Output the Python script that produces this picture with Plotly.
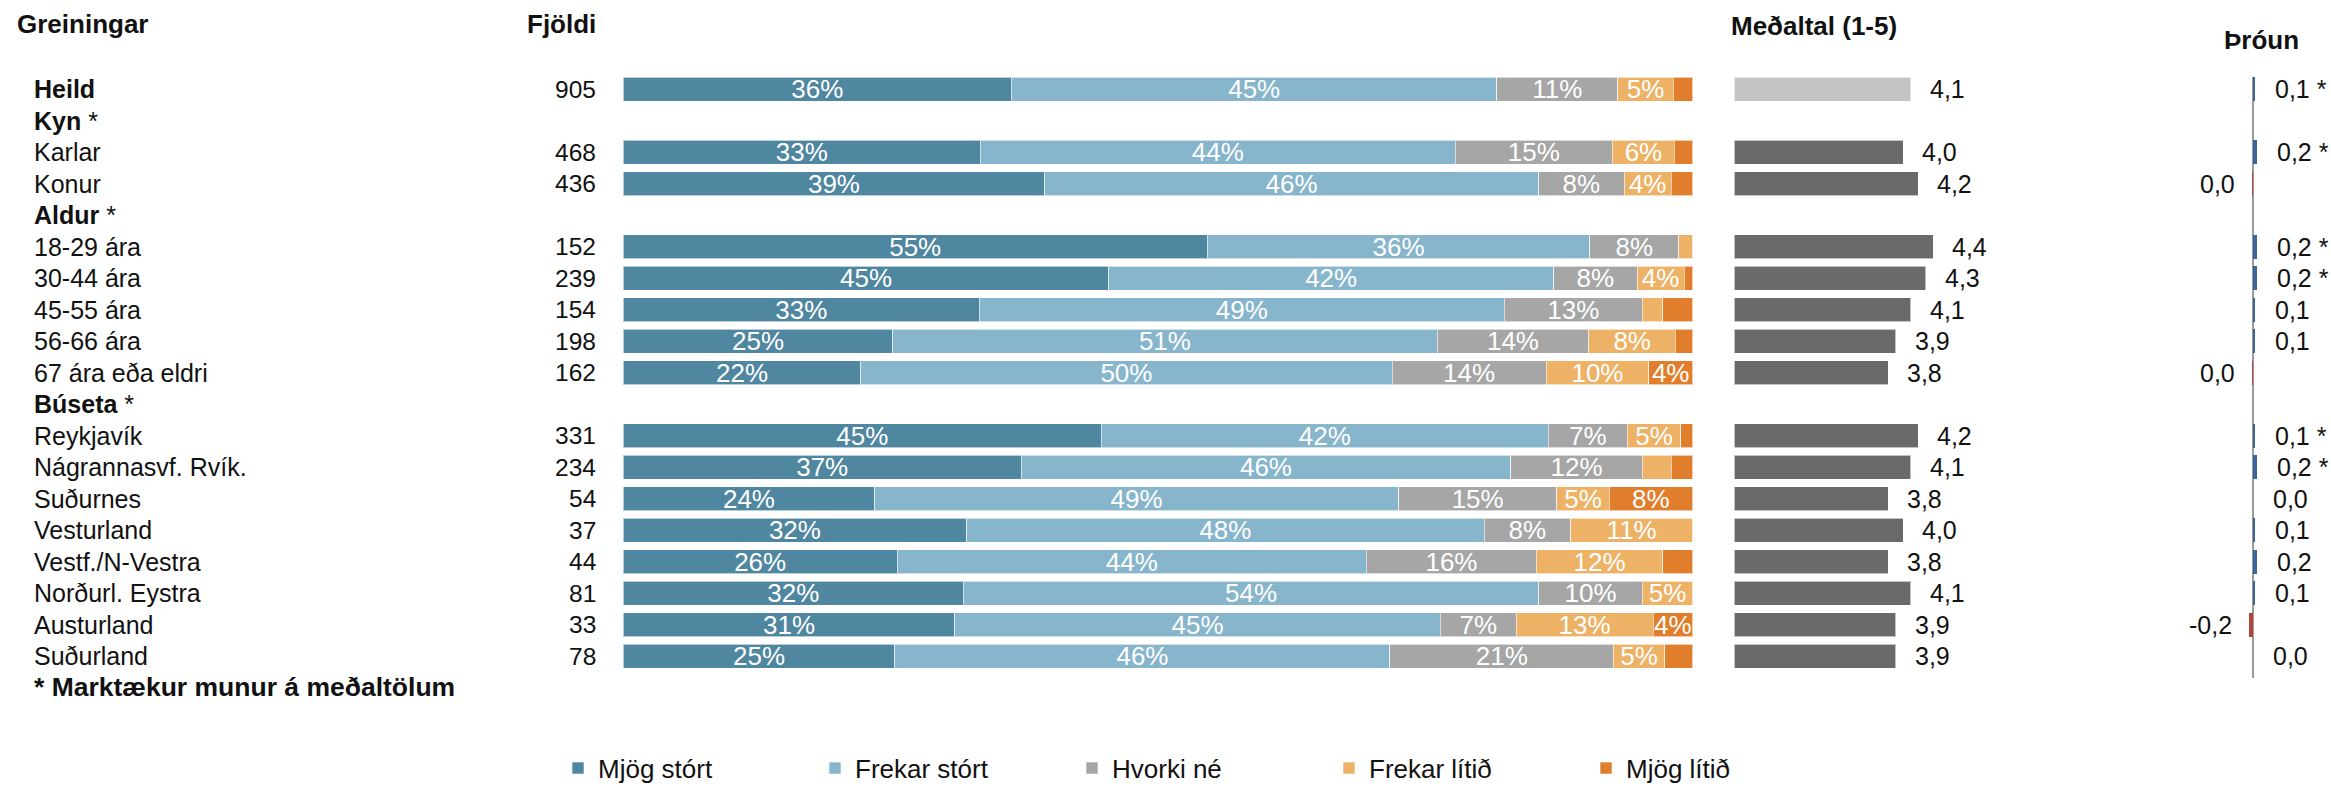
import plotly.graph_objects as go

W, H = 2331, 792
FONT = "Liberation Sans, Arial, sans-serif"

# ---------------- data ----------------
rows = ["Heild", "Kyn *", "Karlar", "Konur", "Aldur *", "18-29 ára", "30-44 ára",
        "45-55 ára", "56-66 ára", "67 ára eða eldri", "Búseta *", "Reykjavík",
        "Nágrannasvf. Rvík.", "Suðurnes", "Vesturland", "Vestf./N-Vestra",
        "Norðurl. Eystra", "Austurland", "Suðurland"]
bold_rows = ["Heild", "Kyn *", "Aldur *", "Búseta *"]

fjoldi = [905, None, 468, 436, None, 152, 239, 154, 198, 162, None,
          331, 234, 54, 37, 44, 81, 33, 78]

series_names = ["Mjög stórt", "Frekar stórt", "Hvorki né", "Frekar lítið", "Mjög lítið"]
mjog_stort = [36.3, None, 33.4, 39.4, None, 54.6, 45.4, 33.3, 25.2, 22.2, None,
              44.7, 37.2, 23.5, 32.1, 25.6, 31.8, 31.0, 25.4]
frekar_stort = [45.4, None, 44.4, 46.2, None, 35.8, 41.6, 49.1, 50.9, 49.7, None,
                41.8, 45.8, 49.0, 48.4, 43.9, 53.8, 45.4, 46.3]
hvorki_ne = [11.3, None, 14.7, 8.0, None, 8.3, 7.8, 12.9, 14.2, 14.4, None,
             7.4, 12.3, 14.8, 8.1, 15.9, 9.7, 7.1, 20.9]
frekar_litid = [5.2, None, 5.8, 4.4, None, 1.3, 4.4, 1.9, 8.1, 9.6, None,
                5.0, 2.7, 4.9, 11.4, 11.8, 4.7, 12.8, 4.8]
mjog_litid = [1.8, None, 1.7, 2.0, None, 0.0, 0.8, 2.8, 1.6, 4.1, None,
              1.1, 2.0, 7.8, 0.0, 2.8, 0.0, 3.7, 2.6]
series_vals = [mjog_stort, frekar_stort, hvorki_ne, frekar_litid, mjog_litid]
series_colors = ["#4f86a0", "#87b5cc", "#a6a6a6", "#edb266", "#e07e2b"]

medaltal = [4.1, None, 4.0, 4.2, None, 4.4, 4.3, 4.1, 3.9, 3.8, None,
            4.2, 4.1, 3.8, 4.0, 3.8, 4.1, 3.9, 3.9]
throun = [0.1, None, 0.2, -0.03, None, 0.2, 0.2, 0.1, 0.1, -0.03, None,
          0.1, 0.2, 0.0, 0.1, 0.2, 0.1, -0.2, 0.0]
marktaekt = [True, None, True, False, None, True, True, False, False, False, None,
             True, True, False, False, False, False, False, False]


def fmt(v):
    if round(v, 1) == 0:
        v = 0.0
    return f"{v:.1f}".replace(".", ",")


# ---------------- layout geometry ----------------
ROW_TOP = 91.0       # pixel centre of first row
ROW_STEP = 32.15     # pixel step between rows
r_lo, r_hi = -0.4, 18.7
y_top_px = ROW_TOP + r_lo * ROW_STEP
y_bot_px = ROW_TOP + r_hi * ROW_STEP
y_domain = [1 - y_bot_px / H, 1 - y_top_px / H]

fig = go.Figure()

for name, vals, color in zip(series_names, series_vals, series_colors):
    txt = [("" if (v is None or v < 3.5) else f"{round(v)}%") for v in vals]
    fig.add_trace(go.Bar(
        y=rows, x=vals, orientation="h", name=name,
        marker=dict(color=color, line=dict(color="rgba(255,255,255,0.6)", width=1)),
        text=txt, textposition="inside", insidetextanchor="middle", textangle=0,
        constraintext="none", textfont=dict(color="white", size=26, family=FONT),
        width=0.77, xaxis="x", yaxis="y", hoverinfo="skip"))

mean_colors = ["#c4c4c4" if r == "Heild" else "#6a6a6a" for r in rows]
fig.add_trace(go.Bar(
    y=rows, x=medaltal, orientation="h", showlegend=False,
    marker=dict(color=mean_colors, line=dict(color="rgba(255,255,255,0.6)", width=1)),
    width=0.77, xaxis="x2", yaxis="y", hoverinfo="skip"))

trend_colors = ["#b5443c" if (v is not None and v < 0) else "#3a659a" for v in throun]
fig.add_trace(go.Bar(
    y=rows, x=throun, orientation="h", showlegend=False,
    marker=dict(color=trend_colors, line=dict(width=0)),
    width=0.77, xaxis="x3", yaxis="y", hoverinfo="skip"))

ann = []
txtc = "#111111"
# headers
ann.append(dict(x=15 / W, y=1 - 25 / H, xref="paper", yref="paper", text="<b>Greiningar</b>",
                xanchor="left", yanchor="middle", showarrow=False,
                font=dict(size=26, family=FONT, color=txtc)))
ann.append(dict(x=598 / W, y=1 - 25 / H, xref="paper", yref="paper", text="<b>Fjöldi</b>",
                xanchor="right", yanchor="middle", showarrow=False,
                font=dict(size=26, family=FONT, color=txtc)))
ann.append(dict(x=1729 / W, y=1 - 27 / H, xref="paper", yref="paper", text="<b>Meðaltal (1-5)</b>",
                xanchor="left", yanchor="middle", showarrow=False,
                font=dict(size=26, family=FONT, color=txtc)))
ann.append(dict(x=2222 / W, y=1 - 41 / H, xref="paper", yref="paper", text="<b>Þróun</b>",
                xanchor="left", yanchor="middle", showarrow=False,
                font=dict(size=26, family=FONT, color=txtc)))

for i, r in enumerate(rows):
    if r in bold_rows:
        if r.endswith(" *"):
            label = f"<b>{r[:-2]}</b> *"
        else:
            label = f"<b>{r}</b>"
    else:
        label = r
    ann.append(dict(x=32 / W, y=r, xref="paper", yref="y", text=label, xanchor="left",
                    yanchor="middle", showarrow=False, font=dict(size=25, family=FONT, color=txtc)))
    if fjoldi[i] is not None:
        ann.append(dict(x=598 / W, y=r, xref="paper", yref="y", text=str(fjoldi[i]),
                        xanchor="right", yanchor="middle", showarrow=False,
                        font=dict(size=24.5, family=FONT, color=txtc)))
    if medaltal[i] is not None:
        ann.append(dict(x=medaltal[i], y=r, xref="x2", yref="y", text=fmt(medaltal[i]),
                        xanchor="left", yanchor="middle", xshift=17, showarrow=False,
                        font=dict(size=25, family=FONT, color=txtc)))
    if throun[i] is not None:
        t = fmt(throun[i]) + (" *" if marktaekt[i] else "")
        neg = throun[i] < 0
        ann.append(dict(x=throun[i], y=r, xref="x3", yref="y", text=t,
                        xanchor="right" if neg else "left", yanchor="middle",
                        xshift=-15 if neg else 18, showarrow=False,
                        font=dict(size=25, family=FONT, color=txtc)))

ann.append(dict(x=32 / W, y=1 - 701 / H, xref="paper", yref="paper",
                text="<b>* Marktækur munur á meðaltölum</b>", xanchor="left", yanchor="middle",
                showarrow=False, font=dict(size=26.5, family=FONT, color=txtc)))

fig.update_layout(
    width=W, height=H, margin=dict(l=0, r=0, t=0, b=0),
    paper_bgcolor="white", plot_bgcolor="white", barmode="stack",
    font=dict(family=FONT, color=txtc),
    xaxis=dict(domain=[623.3 / W, 1692.6 / W], range=[0, 100], visible=False, anchor="y"),
    xaxis2=dict(domain=[1734.6 / W, 1978 / W], range=[1.75, 5], visible=False, anchor="y"),
    xaxis3=dict(domain=[2217 / W, 2289 / W], range=[-2, 2], showticklabels=False, ticks="",
                showgrid=False, showline=False, zeroline=True, zerolinecolor="#9a9a9a",
                zerolinewidth=2, anchor="y"),
    yaxis=dict(domain=y_domain, type="category", categoryorder="array", categoryarray=rows,
               range=[r_hi, r_lo], visible=False),
    legend=dict(orientation="h", x=558 / W, xanchor="left", y=1 - 784 / H, yanchor="middle",
                font=dict(size=26, family=FONT, color=txtc), entrywidth=212,
                entrywidthmode="pixels", traceorder="normal", bgcolor="rgba(0,0,0,0)"),
    annotations=ann,
)

fig.write_html("out.html", config={"displayModeBar": False},
               post_script="document.body.style.margin='0';document.body.style.overflow='hidden';")
